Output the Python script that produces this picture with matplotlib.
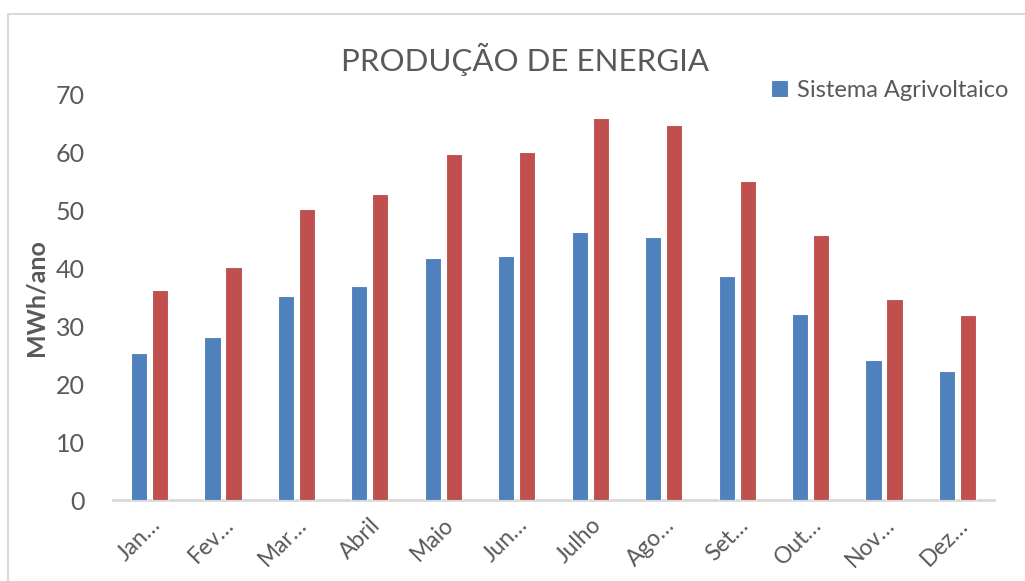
import matplotlib

matplotlib.use("Agg")
import matplotlib.pyplot as plt
import matplotlib.transforms as mtransforms
import numpy as np
from matplotlib.patches import Rectangle

# month labels as they appear (Excel truncates the long ones)
MONTHS = ["Jan…", "Fev…", "Mar…", "Abril", "Maio", "Jun…",
          "Julho", "Ago…", "Set…", "Out…", "Nov…", "Dez…"]
AGRIVOLTAICO = [25.3, 28.1, 35.2, 36.9, 41.7, 42.1, 46.2, 45.3, 38.6, 32.1, 24.1, 22.2]
SEGUNDA_SERIE = [36.2, 40.2, 50.2, 52.8, 59.7, 60.0, 65.9, 64.7, 55.0, 45.7, 34.7, 31.9]
Y_TICKS = [0, 10, 20, 30, 40, 50, 60, 70]

BLUE = "#4F81BD"
RED = "#C0504D"
TEXT = "#595959"
AXIS_LINE = "#D9D9D9"

plt.rcParams["font.family"] = ["Lato", "DejaVu Sans"]

fig = plt.figure(figsize=(10.25, 5.81), dpi=100)
ax = fig.add_axes([0.110, 0.139, 0.860, 0.699])

# chart area frame (only top/left edges are visible in the crop)
fig.patches.append(
    Rectangle((8 / 1025, -0.1), 1.2, 1 - 14 / 581 + 0.1, transform=fig.transFigure,
              fill=False, edgecolor="#D9D9D9", linewidth=1.5)
)

x = np.arange(len(MONTHS))
width = 0.22
offset = 0.143
ax.bar(x - offset, AGRIVOLTAICO, width, color=BLUE, edgecolor="white",
       linewidth=0.8, label="Sistema Agrivoltaico", zorder=3)
ax.bar(x + offset, SEGUNDA_SERIE, width, color=RED, edgecolor="white",
       linewidth=0.8, label="_nolegend_", zorder=3)

ax.set_xlim(-0.5, len(MONTHS) - 0.5)
ax.set_ylim(0, 70)
ax.set_yticks(Y_TICKS)
ax.set_yticklabels([str(v) for v in Y_TICKS], fontsize=18, color=TEXT)
ax.set_xticks(x)
ax.set_xticklabels(MONTHS, fontsize=16.5, color=TEXT, rotation=45,
                   ha="right", va="top", rotation_mode="anchor")
shift = mtransforms.ScaledTranslation(14 / 100, 0, fig.dpi_scale_trans)
for lbl in ax.get_xticklabels():
    lbl.set_transform(lbl.get_transform() + shift)
ax.tick_params(axis="both", length=0)
ax.tick_params(axis="y", pad=20)
ax.tick_params(axis="x", pad=10)

for side in ["left", "right", "top"]:
    ax.spines[side].set_visible(False)
ax.spines["bottom"].set_color(AXIS_LINE)
ax.spines["bottom"].set_linewidth(2)

ax.set_ylabel("MWh/ano", fontsize=18, fontweight="bold", color=TEXT, labelpad=6)

fig.text(0.512, 0.898, "PRODUÇÃO DE ENERGIA", fontsize=22.5, color=TEXT,
         ha="center", va="center")

leg = fig.legend(loc="center right", bbox_to_anchor=(0.993, 0.845), frameon=False,
                 fontsize=17, handlelength=0.7, handleheight=0.7,
                 handletextpad=0.4, labelcolor=TEXT, borderaxespad=0)

fig.savefig("out.png", dpi=100, facecolor="white")
